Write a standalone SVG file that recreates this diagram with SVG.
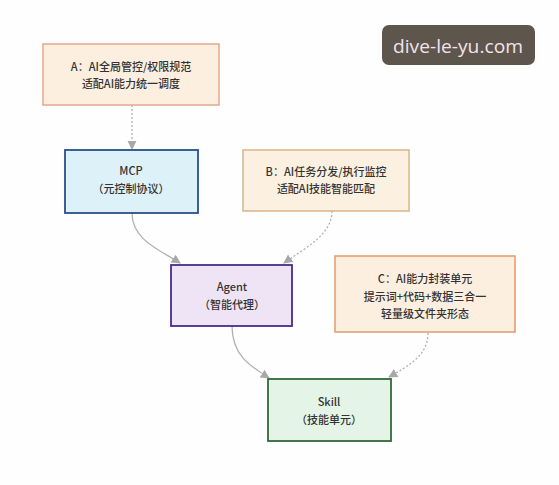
<svg xmlns="http://www.w3.org/2000/svg" width="559" height="485" viewBox="0 0 559 485">
<defs>
<style>
.t{font-family:"Noto Sans CJK SC","Noto Sans",sans-serif;font-size:11px;fill:#333;text-anchor:middle;font-weight:500}
.c{fill:none;stroke:#b0b0b0;stroke-width:1.3}
.d{stroke-dasharray:2 2}
</style>
<marker id="ah" viewBox="0 0 10 10" refX="9" refY="5" markerWidth="7" markerHeight="7" orient="auto-start-reverse">
<path d="M0,0 L10,5 L0,10 z" fill="#a8a8a8"/>
</marker>
</defs>
<rect width="559" height="485" fill="#fefefe"/>
<g id="connectors">
<path class="c d" d="M132,105 L132,149" marker-end="url(#ah)"/>
<path class="c" d="M132,213 C132,240 160,250 180,263" marker-end="url(#ah)"/>
<path class="c d" d="M332,211 C332,235 305,248 284,263" marker-end="url(#ah)"/>
<path class="c" d="M232,326 C232,355 250,366 269,378" marker-end="url(#ah)"/>
<path class="c d" d="M428,333 C428,355 410,365 389,377" marker-end="url(#ah)"/>
</g>
<g id="nodeA">
<rect x="43" y="44" width="176" height="61" fill="#fcefe0" stroke="#e3a88a" stroke-width="1.5"/>
<text class="t" x="131" y="71">A：AI全局管控/权限规范</text>
<text class="t" x="131" y="88">适配AI能力统一调度</text>
</g>
<g id="nodeMCP">
<rect x="65" y="150" width="133" height="63" fill="#ddf1f9" stroke="#2a4f8a" stroke-width="1.8"/>
<text class="t" x="131" y="175">MCP</text>
<text class="t" x="131" y="193">（元控制协议）</text>
</g>
<g id="nodeB">
<rect x="243" y="150" width="166" height="61" fill="#fcf1e0" stroke="#d9b48a" stroke-width="1.5"/>
<text class="t" x="326" y="176">B：AI任务分发/执行监控</text>
<text class="t" x="326" y="193">适配AI技能智能匹配</text>
</g>
<g id="nodeAgent">
<rect x="171" y="265" width="121" height="61" fill="#efe4f6" stroke="#4a2a8a" stroke-width="1.8"/>
<text class="t" x="232" y="291">Agent</text>
<text class="t" x="232" y="309">（智能代理）</text>
</g>
<g id="nodeC">
<rect x="335" y="256" width="180" height="76" fill="#fcefe0" stroke="#e39a6a" stroke-width="1.5"/>
<text class="t" x="425" y="283">C：AI能力封装单元</text>
<text class="t" x="425" y="301">提示词+代码+数据三合一</text>
<text class="t" x="425" y="318">轻量级文件夹形态</text>
</g>
<g id="nodeSkill">
<rect x="268" y="379" width="123" height="62" fill="#e4f4e6" stroke="#2f6a3a" stroke-width="1.8"/>
<text class="t" x="329" y="406">Skill</text>
<text class="t" x="329" y="424">（技能单元）</text>
</g>
<g id="watermark">
<rect x="382" y="25" width="153" height="40" rx="7" fill="#5e554c"/>
<text x="458" y="53" font-family="Open Sans, DejaVu Sans, sans-serif" font-size="19" fill="#f2e4ea" text-anchor="middle" textLength="130" lengthAdjust="spacingAndGlyphs">dive-le-yu.com</text>
</g>
</svg>
